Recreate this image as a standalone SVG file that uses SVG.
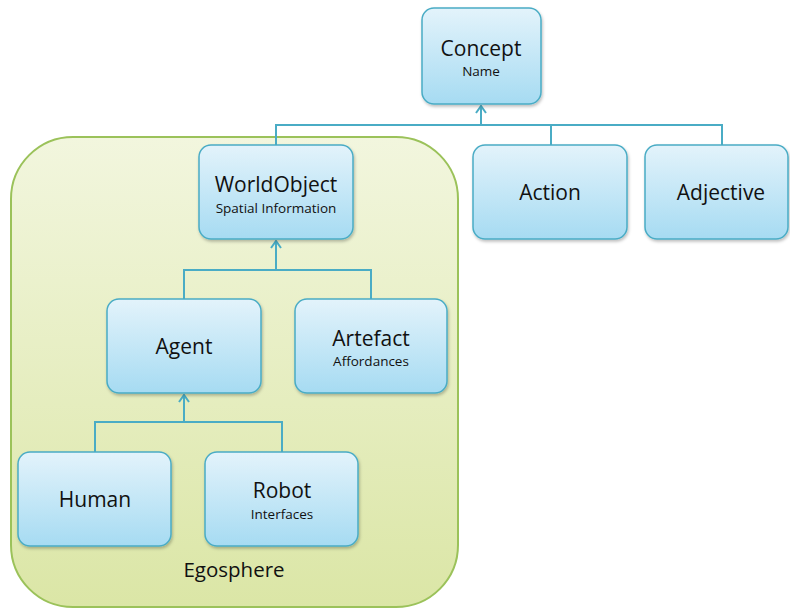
<svg xmlns="http://www.w3.org/2000/svg" width="790" height="608" viewBox="0 0 790 608">
<defs>
<linearGradient id="gBox" x1="0" y1="0" x2="0" y2="1">
<stop offset="0" stop-color="#e3f3fb"/>
<stop offset="1" stop-color="#a6dbf2"/>
</linearGradient>
<linearGradient id="gEgo" x1="0" y1="0" x2="0" y2="1">
<stop offset="0" stop-color="#f2f6de"/>
<stop offset="1" stop-color="#dbe6a6"/>
</linearGradient>
<filter id="sh" x="-10%" y="-10%" width="125%" height="130%">
<feDropShadow dx="1" dy="2" stdDeviation="1.5" flood-color="#000" flood-opacity="0.25"/>
</filter>
<marker id="arr" viewBox="0 0 10 12" refX="9" refY="6" markerWidth="10" markerHeight="12" markerUnits="userSpaceOnUse" orient="auto">
<path d="M2,1 L9,6 L2,11" fill="none" stroke="#4aacc5" stroke-width="2"/>
</marker>
</defs>
<style>
.box{fill:url(#gBox);stroke:#4aacc5;stroke-width:1.5;filter:url(#sh)}
.ego{fill:url(#gEgo);stroke:#9bc25a;stroke-width:2}
.conn{fill:none;stroke:#4aacc5;stroke-width:2}
.t{font-family:"Open Sans","Liberation Sans",Arial,sans-serif;font-size:21px;fill:#111;text-anchor:middle}
.s{font-family:"Open Sans","Liberation Sans",Arial,sans-serif;font-size:13.5px;fill:#111;text-anchor:middle}
.e{font-family:"Open Sans","Liberation Sans",Arial,sans-serif;font-size:20.5px;fill:#111;text-anchor:middle}
</style>
<g id="egosphere">
<rect class="ego" x="11" y="137" width="447" height="470" rx="62" ry="62"/>
<text class="e" x="234" y="577">Egosphere</text>
</g>
<g id="connectors">
<path class="conn" d="M276,145 V125 H722 V145 M551,125 V145"/>
<path class="conn" d="M481,125 V106" marker-end="url(#arr)"/>
<path class="conn" d="M184,299 V270 H371 V299"/>
<path class="conn" d="M276,270 V241" marker-end="url(#arr)"/>
<path class="conn" d="M95,452 V422 H282 V452"/>
<path class="conn" d="M184,422 V395" marker-end="url(#arr)"/>
</g>
<g id="concept">
<rect class="box" x="422" y="8" width="119" height="96" rx="12"/>
<text class="t" x="481" y="56">Concept</text>
<text class="s" x="481" y="76">Name</text>
</g>
<g id="action">
<rect class="box" x="473" y="145" width="154" height="94" rx="12"/>
<text class="t" x="550" y="200">Action</text>
</g>
<g id="adjective">
<rect class="box" x="645" y="145" width="143" height="94" rx="12"/>
<text class="t" x="721" y="200">Adjective</text>
</g>
<g id="worldobject">
<rect class="box" x="199" y="145" width="154" height="94" rx="12"/>
<text class="t" x="276" y="192">WorldObject</text>
<text class="s" x="276" y="213">Spatial Information</text>
</g>
<g id="agent">
<rect class="box" x="107" y="299" width="154" height="94" rx="12"/>
<text class="t" x="184" y="354">Agent</text>
</g>
<g id="artefact">
<rect class="box" x="295" y="299" width="152" height="94" rx="12"/>
<text class="t" x="371" y="346">Artefact</text>
<text class="s" x="371" y="366">Affordances</text>
</g>
<g id="human">
<rect class="box" x="18" y="452" width="153" height="94" rx="12"/>
<text class="t" x="95" y="507">Human</text>
</g>
<g id="robot">
<rect class="box" x="205" y="452" width="153" height="94" rx="12"/>
<text class="t" x="282" y="498">Robot</text>
<text class="s" x="282" y="519">Interfaces</text>
</g>
</svg>
